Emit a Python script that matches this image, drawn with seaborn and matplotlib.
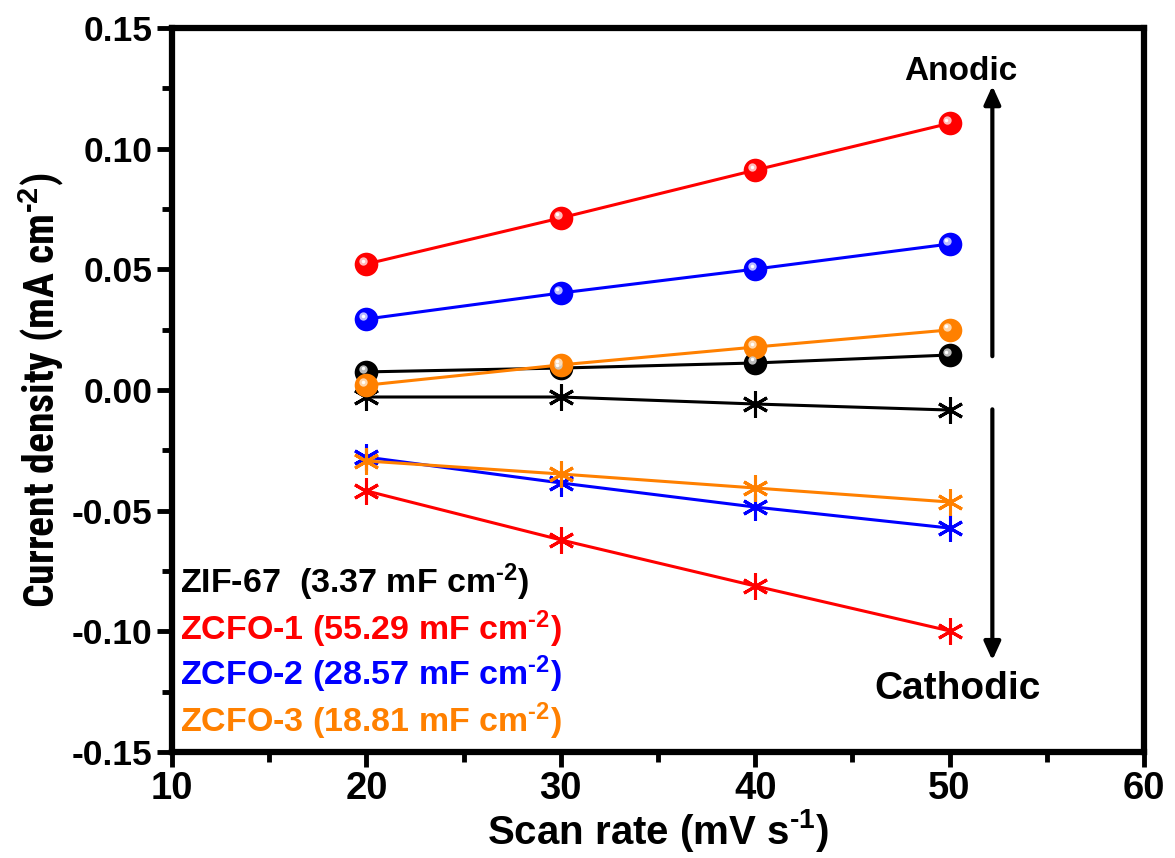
import matplotlib
matplotlib.use("Agg")
import matplotlib.pyplot as plt
import matplotlib.transforms as mtransforms
import seaborn as sns
import pandas as pd
from matplotlib import font_manager

sns.set_style("white")
plt.rcParams['font.family'] = ['Liberation Sans', 'DejaVu Sans']
plt.rcParams['font.weight'] = 'bold'
plt.rcParams['text.color'] = 'black'
plt.rcParams['axes.labelcolor'] = 'black'
plt.rcParams['xtick.color'] = 'black'
plt.rcParams['ytick.color'] = 'black'
plt.rcParams['mathtext.fontset'] = 'custom'
plt.rcParams['mathtext.rm'] = 'Liberation Sans:bold'
plt.rcParams['mathtext.bf'] = 'Liberation Sans:bold'
plt.rcParams['mathtext.default'] = 'bf'

def _isbold(w):
    if isinstance(w, str):
        return w in ('bold', 'heavy', 'black', 'extra bold', 'demibold', 'semibold')
    return w >= 600

bold_narrow = sorted(set(f.name for f in font_manager.fontManager.ttflist
                         if ('Narrow' in f.name or 'Condensed' in f.name)
                         and 'Semi' not in f.name and 'Extra' not in f.name
                         and _isbold(f.weight)))
pref = ['Liberation Sans Narrow', 'Roboto Condensed', 'Archivo Narrow',
        'Fira Sans Condensed', 'Barlow Condensed', 'Encode Sans Condensed']
narrow = next((p for p in pref if p in bold_narrow),
              bold_narrow[0] if bold_narrow else 'Liberation Sans')

scan_rate = [20, 30, 40, 50]

zif67_anodic = [0.0075, 0.0091, 0.0112, 0.0145]
zif67_cathodic = [-0.0029, -0.0029, -0.0058, -0.0083]
zcfo1_anodic = [0.0522, 0.0713, 0.0911, 0.1105]
zcfo1_cathodic = [-0.0418, -0.0621, -0.0812, -0.0998]
zcfo2_anodic = [0.0294, 0.0402, 0.0501, 0.0605]
zcfo2_cathodic = [-0.0278, -0.0385, -0.0485, -0.0572]
zcfo3_anodic = [0.0020, 0.0104, 0.0178, 0.0249]
zcfo3_cathodic = [-0.0294, -0.0348, -0.0406, -0.0464]

labels = [r"ZIF-67  (3.37 mF cm$^{\text{-2}}$)", r"ZCFO-1 (55.29 mF cm$^{\text{-2}}$)",
          r"ZCFO-2 (28.57 mF cm$^{\text{-2}}$)", r"ZCFO-3 (18.81 mF cm$^{\text{-2}}$)"]
colors = ["#000000", "#ff0000", "#0000ff", "#ff8000"]
highlight = ["#cfcfcf", "#ffd0d0", "#d0d0ff", "#ffe0c0"]

anodic = [zif67_anodic, zcfo1_anodic, zcfo2_anodic, zcfo3_anodic]
cathodic = [zif67_cathodic, zcfo1_cathodic, zcfo2_cathodic, zcfo3_cathodic]

fig = plt.figure(figsize=(11.75, 8.58), dpi=100)
ax = fig.add_axes([0.1464, 0.1235, 0.8272, 0.8439])

order = [0, 2, 3, 1]
for i in order:
    dfa = pd.DataFrame({"x": scan_rate, "y": anodic[i]})
    dfc = pd.DataFrame({"x": scan_rate, "y": cathodic[i]})
    sns.lineplot(data=dfc, x="x", y="y", ax=ax, color=colors[i], lw=2.2,
                 marker=(6, 2, 0), markersize=19, markeredgewidth=2.2,
                 markeredgecolor=colors[i], zorder=3)
    sns.lineplot(data=dfa, x="x", y="y", ax=ax, color=colors[i], lw=2.2,
                 marker="o", markersize=17, markeredgewidth=0,
                 markerfacecolor=colors[i], zorder=4)
    tr = mtransforms.offset_copy(ax.transData, fig=fig, x=-3, y=3, units='dots')
    ax.plot(scan_rate, anodic[i], ls='none', marker='o', markersize=6,
            markerfacecolor=highlight[i], markeredgewidth=0, transform=tr,
            alpha=0.9, zorder=5)
    tr2 = mtransforms.offset_copy(ax.transData, fig=fig, x=-3.5, y=3.5, units='dots')
    ax.plot(scan_rate, anodic[i], ls='none', marker='o', markersize=2.5,
            markerfacecolor='white', markeredgewidth=0, transform=tr2, zorder=6)

ax.set_xlim(10, 60)
ax.set_ylim(-0.15, 0.15)
ax.set_xticks([10, 20, 30, 40, 50, 60])
ax.set_xticks([15, 25, 35, 45, 55], minor=True)
yt = [-0.15, -0.10, -0.05, 0.00, 0.05, 0.10, 0.15]
ax.set_yticks(yt)
ax.set_yticks([-0.125, -0.075, -0.025, 0.025, 0.075, 0.125], minor=True)
ax.set_yticklabels([f"{v:.2f}" for v in yt], fontsize=25.5, fontweight='bold')
ax.set_xticklabels(["10", "20", "30", "40", "50", "60"], fontsize=27.5,
                   fontweight='bold')

ax.tick_params(axis='both', which='major', direction='out', length=11, width=3.5,
               pad=3, left=True, bottom=True)
ax.tick_params(axis='both', which='minor', direction='out', length=7, width=3.5,
               left=True, bottom=True)
ax.tick_params(axis='x', which='major', pad=3)
for s in ax.spines.values():
    s.set_linewidth(4.5)
    s.set_color('black')

ax.set_xlabel(r"Scan rate (mV s$^{\text{-1}}$)", fontsize=29, fontweight='bold',
              labelpad=0)
ax.set_ylabel(r"Current density (mA cm$^{\text{-2}}$)", fontsize=30, fontweight='bold',
              family=[narrow, 'Liberation Sans'], labelpad=4)

legend_y = [0.234, 0.170, 0.108, 0.043]
for lab, c, yy in zip(labels, colors, legend_y):
    ax.text(0.008, yy, lab, transform=ax.transAxes, color=c, fontsize=24.5,
            fontweight='bold', va='center', ha='left')

ax.annotate("", xy=(52.2, 0.126), xytext=(52.2, 0.014),
            arrowprops=dict(arrowstyle='-|>,head_width=0.5,head_length=1.1',
                            lw=3, color='black', shrinkA=0, shrinkB=0))
ax.annotate("", xy=(52.2, -0.112), xytext=(52.2, -0.008),
            arrowprops=dict(arrowstyle='-|>,head_width=0.5,head_length=1.1',
                            lw=3, color='black', shrinkA=0, shrinkB=0))
ax.text(50.6, 0.132, "Anodic", fontsize=24, fontweight='bold', ha='center', va='center')
ax.text(50.4, -0.124, "Cathodic", fontsize=28, fontweight='bold', ha='center', va='center')

fig.savefig("out.png", dpi=100)
